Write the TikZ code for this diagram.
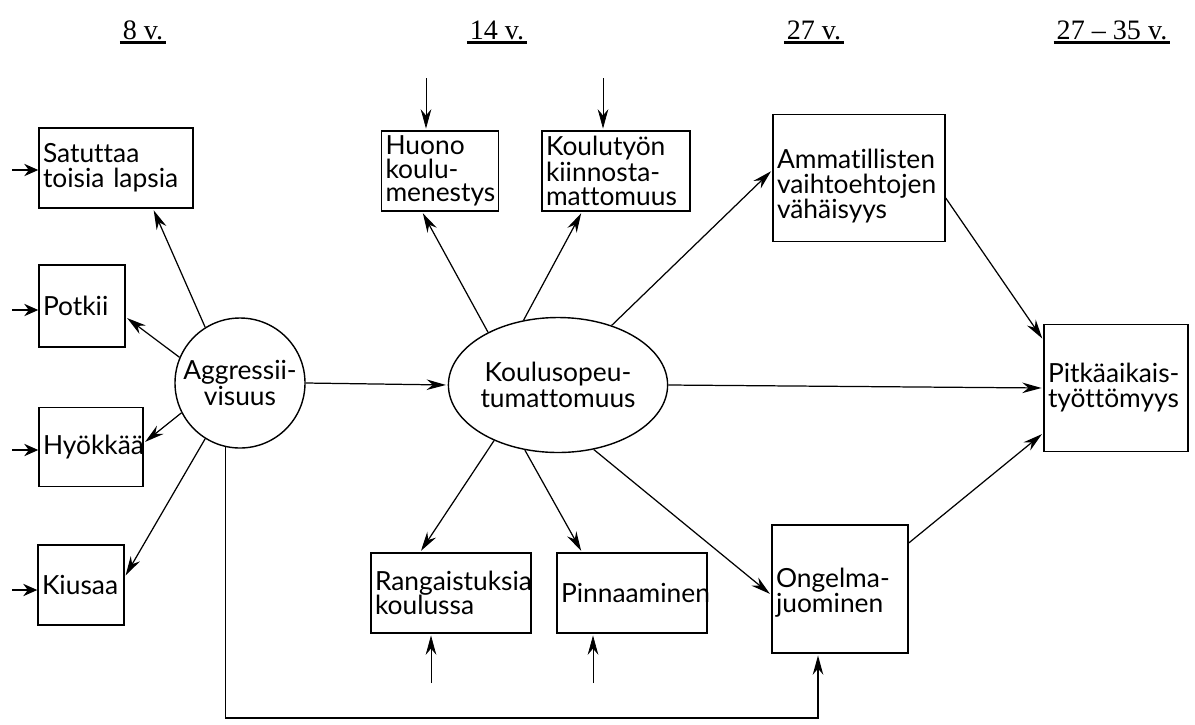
\documentclass[tikz,border=0pt]{standalone}
\usepackage{fontspec}
\setmainfont{Lato}[Ligatures=NoCommon]
\newfontfamily\agefont{Liberation Serif}
\usetikzlibrary{arrows.meta,shapes.geometric}
\hyphenpenalty=10000

\tikzset{
  box/.style={draw, thick, inner xsep=0.08cm, inner ysep=0pt, align=left,
    font=\fontsize{15}{14}\selectfont},
  boxsize/.style 2 args={minimum width=#1*0.02cm, text width=#1*0.02cm-0.16cm,
    minimum height=#2*0.02cm},
  link/.style={line width=0.7pt, -{Stealth[length=11pt,width=6pt]}, shorten >=1pt},
  inlink/.style={thick, -{Stealth[length=8pt,width=7pt]}},
  agelabel/.style={font=\agefont\fontsize{16}{18}\selectfont, inner sep=1.5pt}
}

\begin{document}
\begin{tikzpicture}[x=0.02cm, y=-0.02cm]
    \useasboundingbox (0,0) rectangle (1195,724);
    %% Ages
    \node[agelabel] (age8) at (143,30) {8 v.};
    \node[agelabel] (age14) at (497,30) {14 v.};
    \node[agelabel] (age27) at (814,30) {27 v.};
    \node[agelabel] (age35) at (1112,30) {27 – 35 v.};
    \foreach \a in {age8,age14,age27,age35}
        \draw[line width=1.4pt] (\a.south west) to (\a.south east);
    %% 8 v.
    \node[box, boxsize={154}{80}] (sat) at (116,168) {Satuttaa\\toisia lapsia};
    \node[box, boxsize={86}{82}] (pot) at (82,306) {Potkii};
    \node[box, boxsize={104}{79}] (hyo) at (91,447) {Hyökkää};
    \node[box, boxsize={86}{80}] (kiu) at (81,585) {Kiusaa};
    \node[draw, thick, circle, minimum size=130*0.02cm, inner sep=0pt, align=center,
        font=\fontsize{15}{15}\selectfont] (agg) at (240,383) {Aggressii-\\visuus};
    %% 14 v.
    \node[box, boxsize={117}{80}, font=\fontsize{15}{13.5}\selectfont] (huo) at (440,171)
        {Huono\\koulu-\\menestys};
    \node[box, boxsize={148}{80}, font=\fontsize{15}{13.5}\selectfont] (kou) at (616,171)
        {Koulutyön\\kiinnosta-\\mattomuus};
    \node[draw, thick, ellipse, minimum width=218*0.02cm, minimum height=135*0.02cm,
        inner sep=0pt, align=center, font=\fontsize{15}{15}\selectfont]
        (kso) at (558,385) {Koulusopeu-\\tumattomuus};
    \node[box, boxsize={160}{80}] (ran) at (451,593) {Rangaistuksia\\koulussa};
    \node[box, boxsize={150}{80}] (pin) at (632,593) {Pinnaaminen};
    %% 27 v.
    \node[box, boxsize={172}{127}, text depth=0.75cm] (amm) at (859,178)
        {Ammatillisten\\vaihtoehtojen\\vähäisyys};
    \node[box, boxsize={136}{128}, text depth=0.45cm] (ong) at (840,589)
        {Ongelma-\\juominen};
    %% 27--35 v.
    \node[box, boxsize={144}{127}, text depth=0.6cm] (pit) at (1116,388)
        {Pitkäaikais-\\työttömyys};
    %% Inputs
    \foreach \b/\y in {sat/170,pot/310,hyo/450,kiu/590}{
        \coordinate (in-\b) at (12,\y);
        \draw[inlink] (in-\b) to (in-\b -| \b.west);
    }
    \coordinate (in-huo) at (426,78);
    \coordinate (in-kou) at (603,78);
    \coordinate (in-ran) at (431,683);
    \coordinate (in-pin) at (593,683);
    \draw[link, thin] (in-huo) to (in-huo |- huo.north);
    \draw[link, thin] (in-kou) to (in-kou |- kou.north);
    \draw[link, thin] (in-ran) to (in-ran |- ran.south);
    \draw[link, thin] (in-pin) to (in-pin |- pin.south);
    %% Aggressiivisuus
    \draw[link] (agg.122) to (153,0 |- sat.south);
    \draw[link] (agg.157) to (pot.east |- 0,317);
    \draw[link] (agg.207) to (hyo.east |- 0,443);
    \draw[link] (agg.238) to (kiu.east |- 0,577);
    \draw[link] (agg.east) to (kso.west);
    \coordinate (bend) at (818,718);
    \draw[link, thick] (agg.257) |- (bend) to (bend |- ong.south);
    %% Koulusopeutumattomuus
    \draw[link] (kso.143) to (422,0 |- huo.south);
    \draw[link] (kso.118) to (582,0 |- kou.south);
    \draw[link] (kso.48) to (amm.west |- 0,170);
    \draw[link] (kso.east) to (pit.west);
    \draw[link] (kso.221) to (420,0 |- ran.north);
    \draw[link] (kso.243) to (582,0 |- pin.north);
    \draw[link] (kso.299) to (ong.west |- 0,595);
    %%
    \draw[link] (amm.east |- 0,198) to (pit.west |- 0,340);
    \draw[link] (ong.east |- 0,543) to (pit.west |- 0,433);
\end{tikzpicture}
\end{document}
